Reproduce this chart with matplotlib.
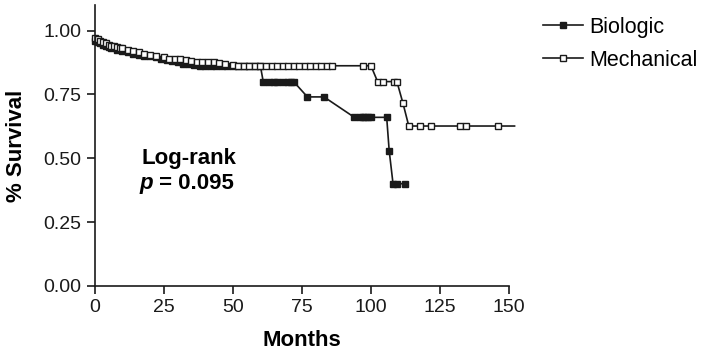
import matplotlib
matplotlib.use('Agg')
import matplotlib.pyplot as plt

plt.rcParams['font.family'] = ['Liberation Sans', 'DejaVu Sans']

# Biologic valves (filled squares)
bio_months = [0, 1, 2, 3, 4, 5, 6, 8, 10, 12, 14, 16, 18, 20, 22, 24, 26, 28,
              30, 32, 34, 36, 38, 40, 42, 44, 46, 48, 50, 52, 54, 56, 58, 60,
              61, 63, 65, 66, 68, 70, 71, 72, 77, 83, 94, 96, 97, 98, 99, 100,
              105.7, 106.6, 108, 109.5, 112.5]
bio_surv = [0.96, 0.955, 0.95, 0.945, 0.94, 0.935, 0.93, 0.925, 0.92, 0.915,
            0.91, 0.905, 0.90, 0.90, 0.895, 0.89, 0.885, 0.88, 0.875, 0.87,
            0.868, 0.865, 0.862, 0.86, 0.86, 0.86, 0.86, 0.86, 0.86, 0.86,
            0.86, 0.86, 0.86, 0.86, 0.80, 0.80, 0.80, 0.80, 0.80, 0.80, 0.80,
            0.80, 0.74, 0.74, 0.66, 0.66, 0.66, 0.66, 0.66, 0.66, 0.66, 0.53,
            0.40, 0.40, 0.40]

# Mechanical valves (open squares)
mech_months = [0, 1, 2, 3, 4, 5, 6, 7, 8, 9, 10, 12, 14, 16, 18, 20, 22, 25,
               27, 29, 31, 33, 35, 37, 39, 41, 43, 45, 47, 50, 52, 54, 56, 58,
               60, 62, 64, 66, 68, 70, 72, 74, 76, 78, 80, 82, 84, 86, 97, 100,
               102.4, 104.5, 108.3, 109.4, 111.6, 113.7, 117.8, 121.8, 132.2,
               134.3, 146, 152]
mech_surv = [0.97, 0.965, 0.96, 0.955, 0.95, 0.945, 0.94, 0.94, 0.935, 0.93,
             0.93, 0.925, 0.92, 0.915, 0.91, 0.905, 0.90, 0.895, 0.89, 0.89,
             0.89, 0.885, 0.88, 0.878, 0.877, 0.875, 0.875, 0.872, 0.87, 0.865,
             0.862, 0.862, 0.862, 0.862, 0.862, 0.862, 0.862, 0.862, 0.862,
             0.862, 0.862, 0.862, 0.862, 0.862, 0.862, 0.862, 0.862, 0.862,
             0.862, 0.862, 0.80, 0.80, 0.80, 0.80, 0.715, 0.626, 0.626, 0.626,
             0.626, 0.626, 0.626, 0.626]

fig = plt.figure(figsize=(7.07, 3.56), dpi=100)
ax = fig.add_axes([0.134, 0.197, 0.586, 0.789])

ax.plot(bio_months, bio_surv, color='#1a1a1a', lw=1.2, marker='s', ms=5,
        mfc='#1a1a1a', mec='#1a1a1a', label='Biologic', clip_on=False)
ax.plot(mech_months, mech_surv, color='#1a1a1a', lw=1.2, marker='s', ms=5,
        mfc='white', mec='#1a1a1a', mew=1, label='Mechanical', clip_on=False,
        markevery=list(range(len(mech_months) - 1)))

ax.set_xlim(0, 150)
ax.set_ylim(0, 1.1)
ax.set_xticks([0, 25, 50, 75, 100, 125, 150])
ax.set_yticks([0, 0.25, 0.5, 0.75, 1.0])
ax.set_yticklabels(['0.00', '0.25', '0.50', '0.75', '1.00'])
for s in ['top', 'right']:
    ax.spines[s].set_visible(False)
for s in ['left', 'bottom']:
    ax.spines[s].set_linewidth(1.2)
    ax.spines[s].set_color('#1a1a1a')
ax.tick_params(direction='out', length=6, width=1.2, labelsize=14,
               colors='#1a1a1a')

ax.set_xlabel('Months', fontsize=16, fontweight='bold', labelpad=10)
ax.set_ylabel('% Survival', fontsize=16, fontweight='bold', labelpad=12)

ax.text(17, 0.5, 'Log-rank', fontsize=16, fontweight='bold', va='center')
ptxt = ax.text(16.3, 0.4, 'p', fontsize=16, fontweight='bold',
               style='italic', va='center')
ax.annotate(' = 0.095', xy=(1, 0.5), xycoords=ptxt, fontsize=16,
            fontweight='bold', va='center')

fig.legend(loc='upper left', bbox_to_anchor=(0.768, 0.953), frameon=False,
           fontsize=15.5, handlelength=1.85, handletextpad=0.3,
           labelspacing=0.55, borderpad=0, borderaxespad=0, markerscale=0.8)

fig.savefig('out.png', dpi=100)
